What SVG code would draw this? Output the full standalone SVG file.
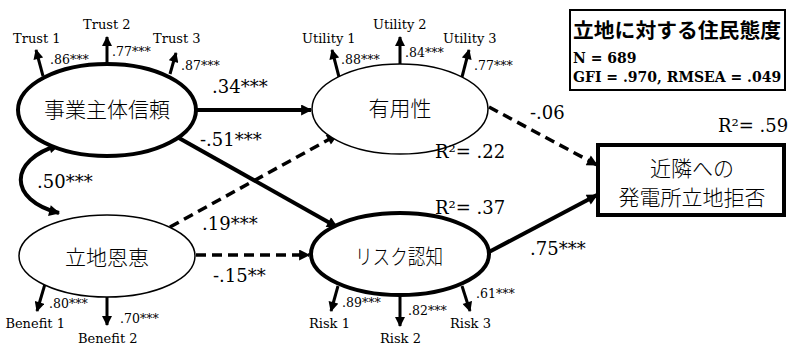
<svg xmlns="http://www.w3.org/2000/svg" width="788" height="345" viewBox="0 0 788 345">
<style>
.bg{fill:#fff}
.thick{fill:#fff;stroke:#000;stroke-width:4}
.thin{fill:#fff;stroke:#000;stroke-width:1.5}
.jp{font-family:"Noto Sans CJK JP","Noto Sans",sans-serif;font-size:21px;font-weight:300;fill:#000;text-anchor:middle}
.coef{font-family:"DejaVu Serif","Liberation Serif",serif;font-size:18px;fill:#000}
.load{font-family:"DejaVu Serif","Liberation Serif",serif;font-size:12.5px;fill:#000}
.item{font-family:"DejaVu Serif","Liberation Serif",serif;font-size:13px;fill:#000}
.info{font-family:"DejaVu Serif","Liberation Serif",serif;font-size:14px;fill:#000;font-weight:bold}
.w4{fill:none;stroke:#000;stroke-width:4;marker-end:url(#ah)}
.d{fill:none;stroke:#000;stroke-width:3.5;stroke-dasharray:10 6;marker-end:url(#ah)}
.ind{fill:none;stroke:#000;stroke-width:3;marker-end:url(#as)}
</style>
<defs>
<marker id="ah" viewBox="0 0 10 10" refX="9" refY="5" markerWidth="13" markerHeight="11" markerUnits="userSpaceOnUse" orient="auto-start-reverse"><path d="M0,0 L10,5 L0,10 z" fill="#000"/></marker>
<marker id="as" viewBox="0 0 10 10" refX="9" refY="5" markerWidth="11" markerHeight="10" markerUnits="userSpaceOnUse" orient="auto"><path d="M0,0 L10,5 L0,10 z" fill="#000"/></marker>
</defs>
<rect class="bg" x="0" y="0" width="788" height="345"/>

<g id="connectors">
<line class="w4" x1="197" y1="110" x2="311" y2="110"/>
<line class="w4" x1="170" y1="133" x2="337" y2="227"/>
<line class="d" x1="170" y1="227" x2="337" y2="135"/>
<line class="d" x1="196" y1="255" x2="309" y2="255"/>
<line class="d" x1="489" y1="107" x2="597" y2="165"/>
<line class="w4" x1="487" y1="253" x2="597" y2="195"/>
<path d="M59,145 C8,160 8,200 59,213" fill="none" stroke="#000" stroke-width="4" marker-start="url(#ah)" marker-end="url(#ah)"/>
<line class="ind" x1="43" y1="76" x2="36" y2="50"/>
<line class="ind" x1="107" y1="64" x2="107" y2="37"/>
<line class="ind" x1="170" y1="74" x2="176" y2="53"/>
<line class="ind" x1="339" y1="77" x2="332" y2="50"/>
<line class="ind" x1="400" y1="64" x2="400" y2="37"/>
<line class="ind" x1="462" y1="77" x2="469" y2="50"/>
<line class="ind" x1="45" y1="284" x2="37" y2="311"/>
<line class="ind" x1="107" y1="297" x2="107" y2="325"/>
<line class="ind" x1="338" y1="286" x2="331" y2="311"/>
<line class="ind" x1="400" y1="296" x2="400" y2="326"/>
<line class="ind" x1="462" y1="286" x2="470" y2="311"/>
<text class="coef" x="212" y="93">.34***</text>
<text class="coef" x="200" y="146">-.51***</text>
<text class="coef" x="202" y="230">.19***</text>
<text class="coef" x="213" y="282">-.15**</text>
<text class="coef" x="37" y="188">.50***</text>
<text class="coef" x="530" y="119">-.06</text>
<text class="coef" x="530" y="255">.75***</text>
</g>

<g id="trust">
<ellipse class="thick" cx="107" cy="110" rx="89" ry="46"/>
<text class="jp" x="107" y="117">事業主体信頼</text>
<text class="item" x="13" y="43">Trust 1</text>
<text class="item" x="83" y="29">Trust 2</text>
<text class="item" x="153" y="43">Trust 3</text>
<text class="load" x="50" y="64">.86***</text>
<text class="load" x="112" y="56">.77***</text>
<text class="load" x="181" y="70">.87***</text>
</g>

<g id="utility">
<ellipse class="thin" cx="400" cy="109" rx="88" ry="45"/>
<text class="jp" x="400" y="116">有用性</text>
<text class="item" x="302" y="43">Utility 1</text>
<text class="item" x="373" y="29">Utility 2</text>
<text class="item" x="443" y="43">Utility 3</text>
<text class="load" x="341" y="64">.88***</text>
<text class="load" x="405" y="57">.84***</text>
<text class="load" x="474" y="70">.77***</text>
<text class="coef" x="435" y="158">R²= .22</text>
</g>

<g id="benefit">
<ellipse class="thin" cx="107" cy="256" rx="88" ry="41"/>
<text class="jp" x="107" y="265">立地恩恵</text>
<text class="item" x="65" y="328" text-anchor="end">Benefit 1</text>
<text class="item" x="78" y="343">Benefit 2</text>
<text class="load" x="49" y="308">.80***</text>
<text class="load" x="120" y="323">.70***</text>
</g>

<g id="risk">
<ellipse class="thick" cx="400" cy="254" rx="89" ry="41"/>
<text class="jp" x="399" y="264" textLength="88" lengthAdjust="spacingAndGlyphs">リスク認知</text>
<text class="item" x="309" y="328">Risk 1</text>
<text class="item" x="380" y="343">Risk 2</text>
<text class="item" x="450" y="328">Risk 3</text>
<text class="load" x="342" y="307">.89***</text>
<text class="load" x="408" y="315">.82***</text>
<text class="load" x="476" y="298">.61***</text>
<text class="coef" x="435" y="214">R²= .37</text>
</g>

<g id="rejection">
<rect x="598" y="145" width="186" height="70" fill="#fff" stroke="#000" stroke-width="4"/>
<text class="jp" x="692" y="176" font-size="20.5">近隣への</text>
<text class="jp" x="692" y="205" font-size="20.5">発電所立地拒否</text>
<text class="coef" x="718" y="132">R²= .59</text>
</g>

<g id="info">
<rect x="570" y="10" width="215" height="80" fill="#fff" stroke="#000" stroke-width="2"/>
<text x="573" y="38" font-family="Noto Sans CJK JP,sans-serif" font-size="20.5" font-weight="bold" textLength="208" lengthAdjust="spacingAndGlyphs">立地に対する住民態度</text>
<text class="info" x="573" y="63">N = 689</text>
<text class="info" x="573" y="82">GFI = .970, RMSEA = .049</text>
</g>
</svg>
